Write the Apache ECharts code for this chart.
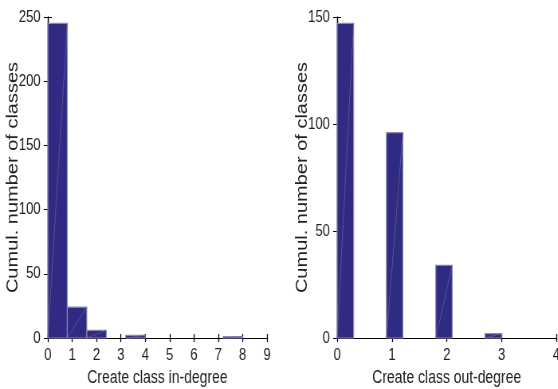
<!DOCTYPE html>
<html>
<head>
<meta charset="utf-8">
<script src="https://cdn.jsdelivr.net/npm/echarts@6/dist/echarts.min.js"></script>
<style>
html,body{margin:0;padding:0;background:#fff;overflow:hidden;width:558px;height:389px;}
/* The figure is laid out wide and compressed horizontally, giving the narrow lettering */
#chart{width:700px;height:389px;transform:scaleX(0.797);transform-origin:0 0;}
</style>
</head>
<body>
<div id="chart"></div>
<script>
// In-degree histogram: bins of width 0.8 starting at 0
const inBinWidth = 0.8;
const inBinStarts = [0, 0.8, 1.6, 2.4, 3.2, 4.0, 4.8, 5.6, 6.4, 7.2];
const inCounts = [245, 24, 6, 0, 2, 0, 0, 0, 0, 1];
const inTicks = [0, 1, 2, 3, 4, 5, 6, 7, 8, 9];

// Out-degree histogram: bins of width 0.3 starting at 0
const outBinWidth = 0.3;
const outBinStarts = [0, 0.3, 0.6, 0.9, 1.2, 1.5, 1.8, 2.1, 2.4, 2.7];
const outCounts = [147, 0, 0, 96, 0, 0, 34, 0, 0, 2];
const outTicks = [0, 1, 2, 3, 4];

const yName = 'Cumul. number of classes';
const xNameIn = 'Create class in-degree';
const xNameOut = 'Create class out-degree';

const FONT = '"Liberation Sans", Arial, sans-serif';
const BAR_FILL = '#2f2a82';
const BAR_EDGE = '#8a8ab4';

function binData(starts, width, counts) {
  return starts.map((s, i) => [s, s + width, counts[i]]);
}

// Each bin is a filled patch with a faint diagonal facet edge
function renderBin(params, api) {
  const x0 = api.value(0), x1 = api.value(1), h = api.value(2);
  if (h <= 0) return null;
  const p0 = api.coord([x0, h]);
  const p1 = api.coord([x1, 0]);
  return {
    type: 'group',
    children: [
      {
        type: 'rect',
        shape: { x: p0[0], y: p0[1], width: p1[0] - p0[0], height: p1[1] - p0[1] },
        style: { fill: BAR_FILL, stroke: BAR_EDGE, lineWidth: 1.2 }
      },
      {
        type: 'line',
        shape: { x1: p0[0], y1: p1[1], x2: p1[0], y2: p0[1] },
        style: { stroke: '#6563a6', lineWidth: 0.7 }
      }
    ]
  };
}

const xTick = { show: true, inside: true, length: 4, lineStyle: { color: '#000', width: 1.25 } };
const yTick = { show: true, inside: true, length: 5, lineStyle: { color: '#000', width: 1 } };
const xLine = { show: true, lineStyle: { color: '#000', width: 1 } };
const yLine = { show: true, lineStyle: { color: '#000', width: 1.25 } };

function mainX(gridIndex, max, name) {
  return {
    type: 'value', gridIndex, min: 0, max, interval: 1, position: 'bottom',
    name, nameLocation: 'middle', nameGap: 31, nameMoveOverlap: false,
    nameTextStyle: { fontFamily: FONT, fontSize: 17.5, color: '#222' },
    axisLine: xLine, axisTick: xTick,
    axisLabel: { fontFamily: FONT, fontSize: 16.5, color: '#222', margin: 9 },
    splitLine: { show: false }
  };
}
function topX(gridIndex, max) {
  return {
    type: 'value', gridIndex, min: 0, max, interval: 1, position: 'top',
    axisLine: xLine, axisTick: xTick,
    axisLabel: { show: false }, splitLine: { show: false }
  };
}
function mainY(gridIndex, max, interval) {
  return {
    type: 'value', gridIndex, min: 0, max, interval, position: 'left',
    name: yName, nameLocation: 'middle', nameGap: 34, nameMoveOverlap: false,
    nameTextStyle: { fontFamily: FONT, fontSize: 20, color: '#222' },
    axisLine: yLine, axisTick: yTick,
    axisLabel: { fontFamily: FONT, fontSize: 16.5, color: '#222', margin: 9 },
    splitLine: { show: false }
  };
}
function rightY(gridIndex, max, interval) {
  return {
    type: 'value', gridIndex, min: 0, max, interval, position: 'right',
    axisLine: yLine, axisTick: yTick,
    axisLabel: { show: false }, splitLine: { show: false }
  };
}

const chart = echarts.init(document.getElementById('chart'), null, { renderer: 'canvas' });
chart.setOption({
  animation: false,
  backgroundColor: '#fff',
  grid: [
    { left: 60, right: 365, top: 17, bottom: 51, outerBoundsMode: 'none', containLabel: false },
    { left: 423, right: 2, top: 17, bottom: 51, outerBoundsMode: 'none', containLabel: false }
  ],
  xAxis: [mainX(0, 9, xNameIn), topX(0, 9), mainX(1, 4, xNameOut), topX(1, 4)],
  yAxis: [mainY(0, 250, 50), rightY(0, 250, 50), mainY(1, 150, 50), rightY(1, 150, 50)],
  series: [
    {
      type: 'custom', xAxisIndex: 0, yAxisIndex: 0,
      renderItem: renderBin, encode: { x: [0, 1], y: 2 },
      data: binData(inBinStarts, inBinWidth, inCounts)
    },
    {
      type: 'custom', xAxisIndex: 2, yAxisIndex: 2,
      renderItem: renderBin, encode: { x: [0, 1], y: 2 },
      data: binData(outBinStarts, outBinWidth, outCounts)
    }
  ]
});
</script>
</body>
</html>
